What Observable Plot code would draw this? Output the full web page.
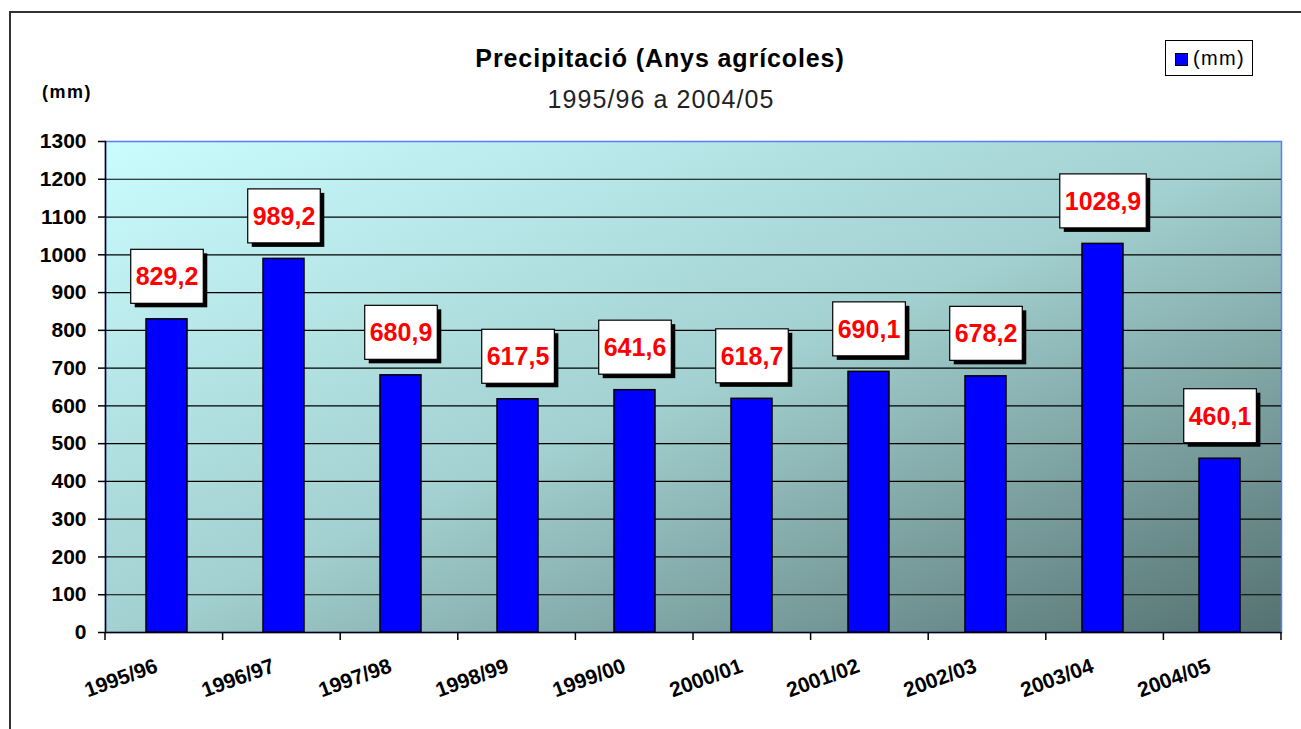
<!DOCTYPE html>
<html>
<head>
<meta charset="utf-8">
<script src="https://cdn.jsdelivr.net/npm/d3@7"></script>
<script src="https://cdn.jsdelivr.net/npm/@observablehq/plot@0.6"></script>
<style>
  html, body { margin: 0; padding: 0; background: #fff; }
  body { width: 1301px; height: 729px; overflow: hidden; position: relative;
         font-family: "Liberation Sans", Arial, sans-serif; }
  #border { position: absolute; left: 9px; top: 11px; width: 1400px; height: 800px;
            border-left: 2px solid #333; border-top: 2px solid #333; }
  #chart { position: absolute; left: 0; top: 0; }
  .ov { position: absolute; line-height: 1; white-space: nowrap; color: #000; }
  #title { left: 0; width: 1320px; text-align: center; top: 46px; font-size: 25px; font-weight: bold; letter-spacing: 0.9px; }
  #subtitle { left: 0; width: 1322px; text-align: center; top: 87px; font-size: 25px; letter-spacing: 1.1px; color: #222; }
  #unit { left: 42px; top: 83px; font-size: 18px; font-weight: bold; letter-spacing: 1.5px; }
  #legend { position: absolute; left: 1165px; top: 40px; width: 86px; height: 34px; border: 1.5px solid #000; background: #fff; }
  #legend .sw { position: absolute; left: 9px; top: 12px; width: 11px; height: 11px; background: #0000ff; border: 1px solid #000; }
  #legend .lt { position: absolute; left: 27px; top: 7px; font-size: 20px; letter-spacing: 1.3px; line-height: 1; }
</style>
</head>
<body>
<svg width="0" height="0" style="position:absolute">
  <defs>
    <linearGradient id="bgGrad" x1="0" y1="0" x2="1" y2="1">
      <stop offset="0" stop-color="#cafcfe"/>
      <stop offset="0.5" stop-color="#a3d0d0"/>
      <stop offset="1" stop-color="#557171"/>
    </linearGradient>
  </defs>
</svg>
<div id="border"></div>
<div id="chart"></div>
<div class="ov" id="title">Precipitació (Anys agrícoles)</div>
<div class="ov" id="subtitle">1995/96 a 2004/05</div>
<div class="ov" id="unit">(mm)</div>
<div id="legend"><div class="sw"></div><div class="lt">(mm)</div></div>
<script>
const years = ["1995/96","1996/97","1997/98","1998/99","1999/00","2000/01","2001/02","2002/03","2003/04","2004/05"];
const mm = [829.2, 989.2, 680.9, 617.5, 641.6, 618.7, 690.1, 678.2, 1028.9, 460.1];
const yTicks = d3.range(0, 1301, 100);

const data = years.map((year, i) => ({year, mm: mm[i]}));
const fmt = v => v.toFixed(1).replace(".", ",");

const chart = Plot.plot({
  width: 1301, height: 729,
  marginLeft: 105, marginRight: 20, marginTop: 141, marginBottom: 97,
  style: {background: "transparent", fontFamily: "'Liberation Sans', Arial, sans-serif", color: "#000", overflow: "visible"},
  x: {domain: years, paddingInner: 0.65, paddingOuter: 0.325, align: 0.5, axis: null},
  y: {domain: [0, 1300], axis: null},
  marks: [
    Plot.frame({fill: "url(#bgGrad)", stroke: "#5b7cff", strokeWidth: 1.5}),
    Plot.ruleY(yTicks.filter(v => v > 0 && v < 1300), {stroke: "#000", strokeWidth: 1.2}),
    Plot.ruleY([0], {stroke: "#000", strokeWidth: 1.5}),
    Plot.frame({anchor: "left", stroke: "#000", strokeWidth: 1.5}),
    Plot.axisY({ticks: yTicks, tickFormat: d => String(d), tickSize: 7, tickPadding: 12, fontSize: 21, fontWeight: "bold", label: null, strokeWidth: 1.5}),
    Plot.barY(data, {x: "year", y: "mm", fill: "#0000ff", stroke: "#000", strokeWidth: 1.5}),
    Plot.text(years, {x: d => d, frameAnchor: "bottom", rotate: -20, textAnchor: "end", dx: -8, dy: 39, fontSize: 21, fontWeight: "bold", fill: "#000"}),
    Plot.text(data, {x: "year", y: "mm", text: d => fmt(d.mm), dy: -42, fill: "#ff0000", fontSize: 25, fontWeight: "bold", ariaDescription: "values"})
  ]
});
document.getElementById("chart").append(chart);

// x-axis tick marks at category boundaries
const sx = chart.scale("x");
const sy = chart.scale("y");
const [r0, r1] = sx.range;
const n = years.length;
const step = (r1 - r0) / n;
const y0 = sy.apply(0);
d3.select(chart).append("g")
  .selectAll("line").data(d3.range(n + 1)).join("line")
  .attr("x1", i => r0 + i * step).attr("x2", i => r0 + i * step)
  .attr("y1", y0).attr("y2", y0 + 8)
  .attr("stroke", "#000").attr("stroke-width", 1.5);

// white label boxes with drop shadow, sized from each label's text
let g = chart.querySelector('g[aria-description="values"]');
if (!g) g = [...chart.querySelectorAll("g")].filter(e => e.getAttribute("fill") === "#ff0000").pop();
if (g) {
  g.querySelectorAll("text").forEach(t => {
    const b = t.getBBox();
    const padX = 5, padY = 13;
    const tr = t.getAttribute("transform");
    const mk = (off, fill, stroke) => {
      const r = document.createElementNS("http://www.w3.org/2000/svg", "rect");
      r.setAttribute("x", b.x - padX + off);
      r.setAttribute("y", b.y - padY + off);
      r.setAttribute("width", b.width + 2 * padX);
      r.setAttribute("height", b.height + 2 * padY);
      r.setAttribute("fill", fill);
      r.setAttribute("stroke", stroke);
      r.setAttribute("stroke-width", 1.2);
      if (tr) r.setAttribute("transform", tr);
      g.insertBefore(r, t);
    };
    mk(4, "#000", "none");
    mk(0, "#fff", "#000");
  });
}
</script>
</body>
</html>
